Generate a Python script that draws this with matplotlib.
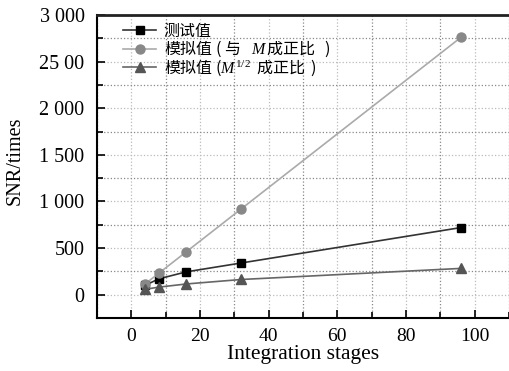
import matplotlib
matplotlib.use("Agg")
import matplotlib.pyplot as plt
from matplotlib.ticker import MultipleLocator
from matplotlib.font_manager import FontProperties
from matplotlib.legend import Legend

stages = [4, 8, 16, 32, 96]
measured = [100, 170, 245, 340, 720]
sim_linear = [115, 230, 460, 920, 2760]
sim_sqrt = [58, 81, 115, 163, 282]

labels = ["测试值",
          "模拟值 ($\\;$与$\\quad M\\,$成正比$\\;\\;\\;$)",
          "模拟值 ($M^{1/2}\\;\\;$成正比$\\;\\;$)"]
yticks = [0, 500, 1000, 1500, 2000, 2500, 3000]
yticklabels = ["0", "500", "1 000", "1 500", "2 000", "25 00", "3 000"]
xticks = [0, 20, 40, 60, 80, 100]

plt.rcParams['font.family'] = ['Liberation Serif', 'Noto Sans CJK SC']
plt.rcParams['mathtext.fontset'] = 'custom'
plt.rcParams['mathtext.rm'] = 'Liberation Serif'
plt.rcParams['mathtext.it'] = 'Liberation Serif:italic'

fig = plt.figure(figsize=(5.09, 3.71), dpi=100)
ax = fig.add_axes([97/509, 53/371, 1 - 97/509, (318-15)/371])

l1, = ax.plot(stages, measured, color='#333333', lw=1.2, marker='s', ms=6,
              mfc='black', mec='black', label=labels[0], zorder=3)
l2, = ax.plot(stages, sim_linear, color='#aaaaaa', lw=1.2, marker='o', ms=6.5,
              mfc='#888888', mec='#888888', label=labels[1], zorder=3)
l3, = ax.plot(stages, sim_sqrt, color='#666666', lw=1.2, marker='^', ms=6.5,
              mfc='#555555', mec='#555555', label=labels[2], zorder=3)

ax.set_xlim(-10, 110)
ax.set_ylim(-250, 3000)
ax.set_xticks(xticks)
ax.set_yticks(yticks)
ax.set_yticklabels(yticklabels)
ax.xaxis.set_minor_locator(MultipleLocator(10))
ax.yaxis.set_minor_locator(MultipleLocator(250))

ax.grid(which='major', color='#bbbbbb', ls=':', lw=0.9)
ax.grid(which='minor', color='#888888', ls=':', lw=0.9)
ax.set_axisbelow(True)

ax.tick_params(which='both', direction='in', width=1.2, color='black')
ax.tick_params(which='major', length=6)
ax.tick_params(which='minor', length=4)
ax.tick_params(axis='x', labelsize=14, pad=7)
ax.tick_params(axis='y', labelsize=14.5, pad=9)

for s in ['left', 'bottom']:
    ax.spines[s].set_linewidth(1.5)
ax.spines['top'].set_linewidth(2.0)
ax.spines['top'].set_color('#222222')
ax.spines['right'].set_visible(False)

ax.set_xlabel("Integration stages", fontsize=15.5, labelpad=0)
ax.set_ylabel("SNR/times", fontsize=14.5)
ax.yaxis.set_label_coords(-0.175, 0.52)

# one legend per row so that rows are evenly spaced as in the original
row_y = [0.946, 0.887, 0.827]
legprop = FontProperties(family='Noto Sans CJK SC', size=11.5)
for line, lab, yy in zip([l1, l2, l3], labels, row_y):
    lg = Legend(ax, [line], [lab], loc='center left', bbox_to_anchor=(0.063, yy),
                frameon=False, prop=legprop, handlelength=2.1,
                handletextpad=0.45, borderpad=0, borderaxespad=0)
    ax.add_artist(lg)

fig.savefig("out.png", dpi=100)
